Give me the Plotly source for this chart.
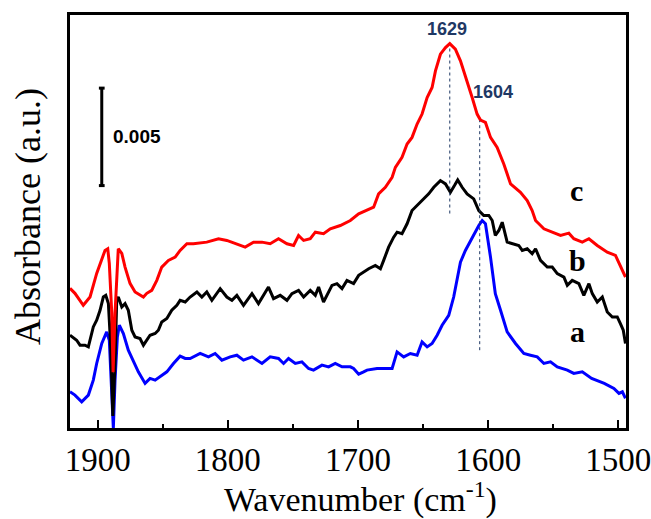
import plotly.graph_objects as go

# ---------------- data ----------------
wn_c = [1921.3, 1917.5, 1911.1, 1905.9, 1900.8, 1896.9, 1894.4, 1892.3, 1891.1, 1889.2,
        1888.2, 1886.7, 1884.9, 1884.2, 1881.5, 1879.0, 1875.2, 1871.3, 1864.9, 1862.3,
        1858.5, 1854.6, 1850.8, 1845.7, 1840.5, 1836.7, 1831.5, 1826.5, 1816.2, 1807.2,
        1800.8, 1793.1, 1786.7, 1780.3, 1773.8, 1767.5, 1761.1, 1754.6, 1749.5, 1745.7,
        1741.8, 1736.7, 1732.8, 1726.5, 1721.3, 1713.6, 1705.9, 1699.5, 1693.1, 1688.0,
        1684.2, 1679.0, 1673.8, 1671.3, 1666.2, 1662.3, 1658.5, 1654.6, 1650.8, 1646.9,
        1643.1, 1640.5, 1636.7, 1632.8, 1629.5, 1625.2, 1621.3, 1616.2, 1612.3, 1608.5,
        1605.9, 1602.1, 1598.2, 1593.1, 1588.0, 1582.8, 1575.2, 1570.0, 1566.2, 1563.6,
        1557.2, 1550.8, 1544.4, 1538.0, 1534.2, 1527.7, 1522.6, 1516.2, 1508.5, 1502.2,
        1498.4, 1494.5]
abs_c = [140, 135, 123, 131.3, 155, 168, 178, 179.7, 165, 115,
         56, 115, 171.3, 179.7, 175, 161.3, 145, 136.3, 131.3, 135,
         138, 148, 161.3, 168, 171.3, 178, 184.7, 184.7, 186.3, 189.7,
         188, 184.7, 181.3, 186.3, 186.3, 184.7, 189.7, 184.7, 183, 193,
         188, 189.7, 196.3, 194.7, 199.7, 203, 208, 214.7, 218, 221.3,
         234.7, 241.3, 251.3, 261.3, 271.3, 284.7, 291.3, 304.7, 314.7, 331.3,
         341.3, 358, 374.7, 381.3, 385.3, 379.7, 368, 348, 331.3, 314.7,
         308.7, 306.3, 291.3, 281.3, 264.7, 244.7, 236.3, 228, 218, 208,
         199.7, 196.3, 193, 195.3, 189.7, 186.3, 189.7, 183, 176.3, 173,
         163, 151.3]

wn_b = [1921.3, 1916.2, 1913.6, 1909.8, 1907.2, 1903.4, 1900.8, 1898.2, 1895.7, 1893.8,
        1891.8, 1890.0, 1888.4, 1886.7, 1885.4, 1884.2, 1881.5, 1879.0, 1876.5, 1873.8,
        1871.3, 1867.5, 1864.9, 1862.3, 1859.8, 1855.9, 1853.4, 1850.8, 1846.9, 1843.1,
        1839.2, 1836.7, 1832.8, 1829.0, 1823.8, 1820.0, 1816.2, 1812.3, 1805.9, 1800.8,
        1796.9, 1793.1, 1788.0, 1781.5, 1776.5, 1768.8, 1764.9, 1759.8, 1754.6, 1750.8,
        1745.7, 1741.8, 1736.7, 1732.8, 1730.3, 1726.5, 1720.0, 1716.2, 1712.3, 1708.5,
        1703.4, 1699.5, 1695.7, 1691.8, 1686.7, 1682.8, 1680.3, 1676.5, 1672.6, 1670.0,
        1666.2, 1662.3, 1658.5, 1653.4, 1649.5, 1645.7, 1641.8, 1636.7, 1632.8, 1629.0,
        1625.9, 1623.4, 1620.0, 1616.2, 1611.1, 1607.2, 1603.4, 1599.5, 1596.9, 1594.5,
        1591.8, 1589.2, 1585.4, 1580.3, 1576.5, 1573.8, 1570.0, 1566.2, 1563.6, 1559.8,
        1554.6, 1550.8, 1546.9, 1541.8, 1539.2, 1535.4, 1530.3, 1526.5, 1522.6, 1520.0,
        1516.2, 1512.3, 1508.5, 1504.6, 1500.8, 1498.4, 1496.2, 1494.5]
abs_b = [93, 88, 83, 83, 81.3, 101.3, 108, 118, 131.3, 133,
         124.7, 81.3, 12, 65, 128, 131.3, 121.3, 124.7, 118, 98,
         91.3, 89.7, 83, 88, 93, 94.7, 98, 106.3, 109.7, 118,
         123, 128, 126.3, 131.3, 136.3, 131.3, 136.3, 128, 139.7, 131.3,
         128, 133, 123, 134.7, 124.7, 141.3, 129.7, 133, 128, 134.7,
         138, 131.3, 138, 133, 141.3, 126.3, 143, 144.7, 139.7, 148,
         144.7, 153, 156.3, 159.7, 163, 159.7, 168, 181.3, 191.3, 196.3,
         194.7, 204.7, 218, 224.7, 229.7, 234.7, 241.3, 248, 244.7, 236.3,
         243, 248.7, 241.3, 234.7, 229.7, 218, 213, 213, 208, 193,
         198, 206.3, 186.3, 184.7, 183, 178, 179.7, 174.7, 179.7, 168,
         161.3, 161.3, 154.7, 151.3, 143, 148, 144.7, 133, 144.7, 134.7,
         126.3, 131.3, 116.3, 111.3, 111.3, 104.7, 98, 84.7]

wn_a = [1921.3, 1917.5, 1912.3, 1907.2, 1903.4, 1900.8, 1896.9, 1893.1, 1891.1, 1889.2,
        1888.0, 1886.7, 1884.9, 1883.4, 1880.3, 1876.5, 1872.6, 1868.8, 1863.6, 1859.8,
        1855.9, 1850.8, 1846.9, 1841.8, 1836.7, 1832.8, 1829.0, 1821.3, 1814.9, 1809.8,
        1804.6, 1798.2, 1793.1, 1788.0, 1781.5, 1773.8, 1767.5, 1761.1, 1757.2, 1753.4,
        1748.2, 1743.1, 1738.0, 1734.2, 1727.7, 1722.6, 1717.5, 1712.3, 1705.9, 1703.4,
        1699.5, 1695.7, 1693.1, 1685.4, 1680.3, 1673.8, 1670.0, 1664.9, 1659.8, 1654.6,
        1650.8, 1646.9, 1643.1, 1639.2, 1635.4, 1630.3, 1626.5, 1621.3, 1617.5, 1612.3,
        1607.2, 1604.6, 1602.1, 1598.2, 1594.5, 1590.5, 1585.4, 1579.0, 1572.6, 1567.5,
        1562.3, 1557.2, 1552.1, 1546.9, 1539.2, 1534.2, 1527.7, 1520.5, 1510.8, 1503.4,
        1499.5, 1496.9, 1494.5]
abs_a = [36.3, 33, 26.3, 33, 48, 64.7, 84.7, 96.3, 88, 38,
         0, 48, 91.3, 103, 94.7, 78, 66.3, 56.3, 44.7, 49.7,
         48, 53, 56.3, 64.7, 72, 69.7, 69.7, 74.7, 71.3, 74.7,
         68, 71.3, 73, 68, 71.3, 64.7, 71.3, 69.7, 64.7, 69.7,
         64.7, 66.3, 59.7, 58, 63, 61.3, 64.7, 61.3, 61.3, 59.7,
         54, 56.3, 58, 59.7, 59.7, 59.7, 76.3, 71.3, 74.7, 73,
         86.3, 81.3, 84.7, 93, 103, 113, 131.3, 166.3, 178, 191.3,
         203, 208, 204.7, 171.3, 134.7, 118, 96.3, 84.7, 74.7, 73,
         71.3, 64.7, 66.3, 61.3, 58, 54.7, 56.3, 49.7, 44.7, 39.7,
         34.7, 36.3, 29.7]

series_names = ["a", "b", "c"]
series_colors = ["#0000FF", "#000000", "#FF0000"]

tick_values = [1900, 1800, 1700, 1600, 1500]
tick_labels = ["1900", "1800", "1700", "1600", "1500"]
minor_tick_values = [1850, 1750, 1650, 1550]

peak_labels = ["1629", "1604"]
peak_line_x = [1629.5, 1606.5]
scalebar_label = "0.005"

# ---------------- figure ----------------
SERIF = "Liberation Serif, Times New Roman, serif"
SANS = "Liberation Sans, Arial, sans-serif"

fig = go.Figure()
for wn, ab, col in [(wn_a, abs_a, series_colors[0]),
                    (wn_b, abs_b, series_colors[1]),
                    (wn_c, abs_c, series_colors[2])]:
    fig.add_trace(go.Scatter(x=wn, y=ab, mode="lines",
                             line=dict(color=col, width=3),
                             showlegend=False, hoverinfo="skip"))

# dotted peak markers
peak_line_ranges = [(215, 383), (78, 308)]
for xv, (y0, y1) in zip(peak_line_x, peak_line_ranges):
    fig.add_shape(type="line", x0=xv, x1=xv, y0=y0, y1=y1, xref="x", yref="y",
                  line=dict(color="#1F3864", width=1, dash="dot"))

# scale bar
sb_x, sb_y0, sb_y1 = 1896.9, 243, 340.7
fig.add_shape(type="line", x0=sb_x, x1=sb_x, y0=sb_y0, y1=sb_y1,
              line=dict(color="black", width=3))
for yy in (sb_y0, sb_y1):
    fig.add_shape(type="line", x0=sb_x + 2.2, x1=sb_x - 2.2, y0=yy, y1=yy,
                  line=dict(color="black", width=3))

annotations = [
    dict(x=1869.6, y=292.2, text="<b>%s</b>" % scalebar_label, showarrow=False,
         font=dict(family=SANS, size=19, color="black"), xanchor="center", yanchor="middle"),
    dict(x=1631.5, y=399.7, text="<b>%s</b>" % peak_labels[0], showarrow=False,
         font=dict(family=SANS, size=18, color="#1F3864"), xanchor="center", yanchor="middle"),
    dict(x=1596.1, y=337.2, text="<b>%s</b>" % peak_labels[1], showarrow=False,
         font=dict(family=SANS, size=18, color="#1F3864"), xanchor="center", yanchor="middle"),
    dict(x=1532.1, y=238, text="<b>c</b>", showarrow=False,
         font=dict(family=SERIF, size=30, color="black"), xanchor="center", yanchor="middle"),
    dict(x=1531.3, y=168, text="<b>b</b>", showarrow=False,
         font=dict(family=SERIF, size=30, color="black"), xanchor="center", yanchor="middle"),
    dict(x=1531.3, y=97, text="<b>a</b>", showarrow=False,
         font=dict(family=SERIF, size=30, color="black"), xanchor="center", yanchor="middle"),
    dict(x=0.5216, y=0, xref="paper", yref="paper", yshift=-46,
         text="Wavenumber (cm<sup>-1</sup>)", showarrow=False,
         font=dict(family=SERIF, size=34, color="black"), xanchor="center", yanchor="top"),
    dict(x=-0.0755, y=0.511, xref="paper", yref="paper", textangle=-90,
         text="Absorbance (a.u.)", showarrow=False,
         font=dict(family=SERIF, size=36, color="black"), xanchor="center", yanchor="middle"),
]

fig.update_layout(
    width=651, height=519,
    autosize=False,
    margin=dict(l=70, r=25, t=15, b=91, autoexpand=False),
    paper_bgcolor="white", plot_bgcolor="white",
    annotations=annotations,
    xaxis=dict(range=[1921.3, 1494.1], tickvals=tick_values, ticktext=tick_labels,
               automargin=False,
               ticks="inside", ticklen=8, tickwidth=2, tickcolor="black",
               ticklabeloverflow="allow",
               showline=True, linewidth=3, linecolor="black", mirror=True,
               showgrid=False, zeroline=False,
               tickfont=dict(family=SERIF, size=33, color="black"),
               minor=dict(tickvals=minor_tick_values, ticks="inside", ticklen=4,
                          tickwidth=2, tickcolor="black", showgrid=False)),
    yaxis=dict(range=[0, 414], showticklabels=False, ticks="", automargin=False,
               showline=True, linewidth=3, linecolor="black", mirror=True,
               showgrid=False, zeroline=False),
)

fig.write_html("out.html",
               config={"responsive": False, "displayModeBar": False},
               post_script="document.body.style.margin='0';document.body.style.overflow='hidden';")
